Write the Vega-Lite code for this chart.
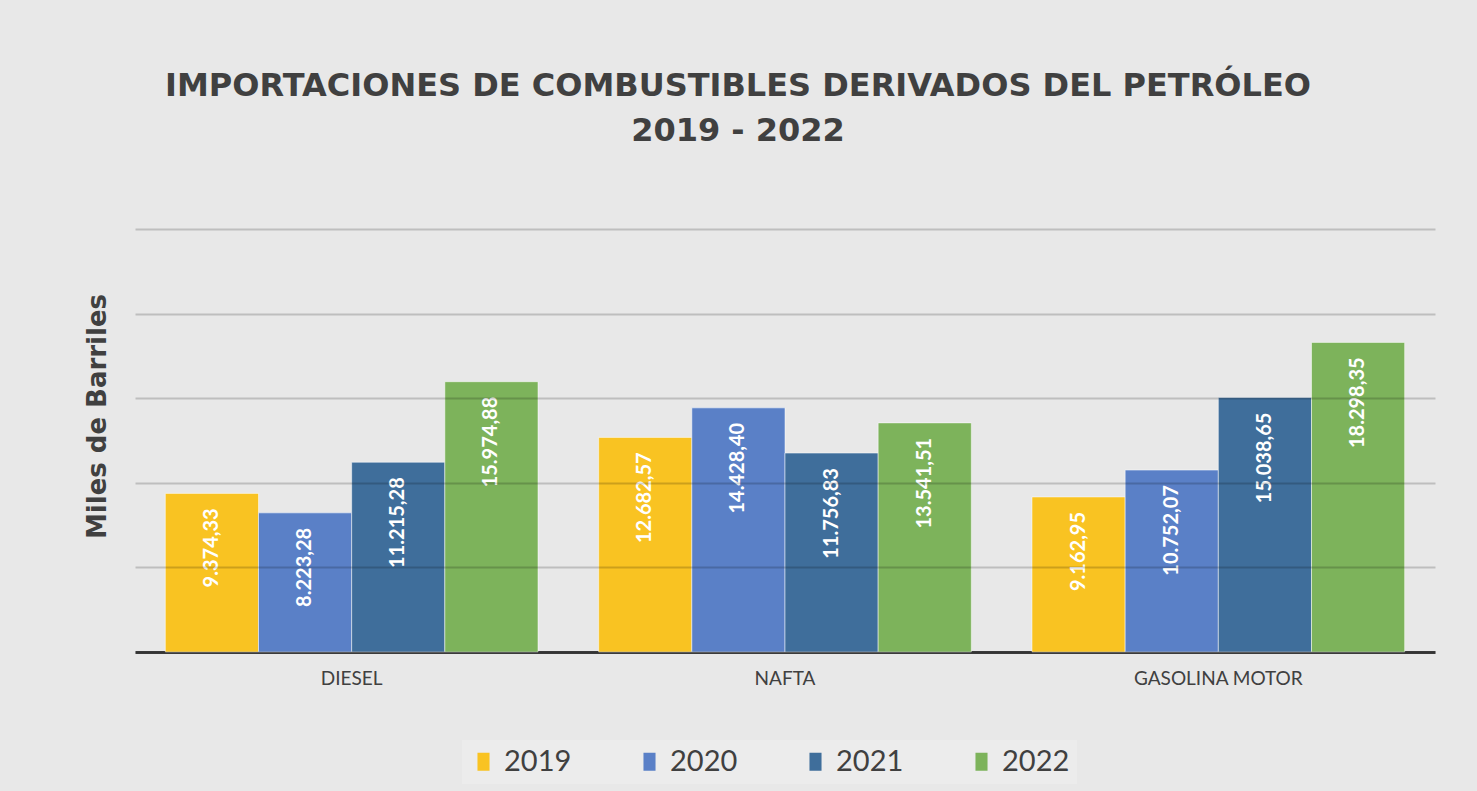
{
  "$schema": "https://vega.github.io/schema/vega-lite/v6.json",
  "autosize": "none",
  "width": 1300,
  "height": 423,
  "padding": {"left": 135, "top": 229, "right": 42, "bottom": 139},
  "background": "#e8e8e8",
  "config": {
    "view": {"stroke": null},
    "locale": {"number": {"decimal": ",", "thousands": ".", "grouping": [3], "currency": ["", ""]}}
  },
  "title": {
    "text": ["IMPORTACIONES DE COMBUSTIBLES DERIVADOS DEL PETRÓLEO", "2019 - 2022"],
    "font": "DejaVu Sans",
    "fontSize": 32,
    "fontWeight": "bold",
    "color": "#404040",
    "anchor": "middle",
    "frame": "group",
    "dx": -47,
    "offset": 81,
    "lineHeight": 45
  },
  "data": {
    "values": [
      {"producto": "DIESEL", "anio": "2019", "valor": 9374.33},
      {"producto": "DIESEL", "anio": "2020", "valor": 8223.28},
      {"producto": "DIESEL", "anio": "2021", "valor": 11215.28},
      {"producto": "DIESEL", "anio": "2022", "valor": 15974.88},
      {"producto": "NAFTA", "anio": "2019", "valor": 12682.57},
      {"producto": "NAFTA", "anio": "2020", "valor": 14428.40},
      {"producto": "NAFTA", "anio": "2021", "valor": 11756.83},
      {"producto": "NAFTA", "anio": "2022", "valor": 13541.51},
      {"producto": "GASOLINA MOTOR", "anio": "2019", "valor": 9162.95},
      {"producto": "GASOLINA MOTOR", "anio": "2020", "valor": 10752.07},
      {"producto": "GASOLINA MOTOR", "anio": "2021", "valor": 15038.65},
      {"producto": "GASOLINA MOTOR", "anio": "2022", "valor": 18298.35}
    ]
  },
  "encoding": {
    "x": {
      "field": "producto",
      "type": "nominal",
      "sort": ["DIESEL", "NAFTA", "GASOLINA MOTOR"],
      "scale": {"paddingInner": 0.14, "paddingOuter": 0.07},
      "axis": {
        "title": null,
        "labelAngle": 0,
        "labelFont": "Lato",
        "labelFontSize": 19,
        "labelColor": "#404040",
        "labelPadding": 17,
        "ticks": false,
        "domainColor": "#404040",
        "domainWidth": 3,
        "grid": false
      }
    },
    "xOffset": {
      "field": "anio",
      "type": "nominal",
      "sort": ["2019", "2020", "2021", "2022"],
      "scale": {"paddingInner": 0, "paddingOuter": 0}
    },
    "y": {
      "field": "valor",
      "type": "quantitative",
      "scale": {"domain": [0, 25000], "nice": false},
      "axis": {
        "title": "Miles de Barriles",
        "titleFont": "DejaVu Sans",
        "titleFontSize": 26,
        "titleFontWeight": "bold",
        "titleColor": "#404040",
        "titleX": -38,
        "titleY": 187,
        "titleAngle": 270,
        "titleAlign": "center",
        "titleBaseline": "middle",
        "labels": false,
        "ticks": false,
        "domain": false,
        "values": [0, 5000, 10000, 15000, 20000, 25000],
        "gridColor": "#000000",
        "gridOpacity": 0.18,
        "gridWidth": 2,
        "zindex": 1
      }
    }
  },
  "layer": [
    {
      "mark": {"type": "bar", "stroke": "#ffffff", "strokeOpacity": 0.5, "strokeWidth": 1},
      "encoding": {
        "color": {
          "field": "anio",
          "type": "nominal",
          "sort": ["2019", "2020", "2021", "2022"],
          "scale": {"range": ["#F9C322", "#5A80C7", "#3F6E9B", "#7DB35B"]},
          "legend": {
            "orient": "none",
            "legendX": 327,
            "legendY": 511,
            "direction": "horizontal",
            "columns": 4,
            "title": null,
            "labelFont": "Lato",
            "labelFontSize": 29,
            "labelColor": "#404040",
            "symbolType": "M-0.67,-1H0.67V1H-0.67Z",
            "symbolSize": 324,
            "symbolStrokeWidth": 0,
            "symbolOpacity": 1,
            "labelOffset": 6,
            "columnPadding": 63,
            "fillColor": "#ececec",
            "padding": 7
          }
        }
      }
    },
    {
      "mark": {
        "type": "text",
        "angle": 270,
        "align": "right",
        "baseline": "middle",
        "dx": -15,
        "font": "Lato",
        "fontWeight": "bold",
        "fontSize": 20,
        "fill": "#ffffff"
      },
      "encoding": {
        "text": {"field": "valor", "type": "quantitative", "format": ",.2f"}
      }
    }
  ]
}
